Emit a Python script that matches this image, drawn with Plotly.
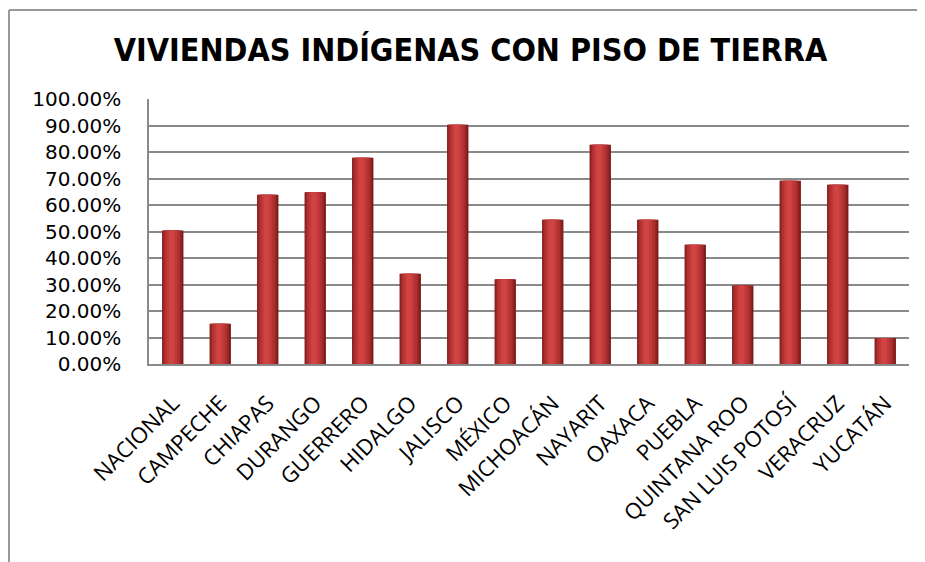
import plotly.graph_objects as go

categories = ["NACIONAL", "CAMPECHE", "CHIAPAS", "DURANGO", "GUERRERO", "HIDALGO",
              "JALISCO", "MÉXICO", "MICHOACÁN", "NAYARIT", "OAXACA", "PUEBLA",
              "QUINTANA ROO", "SAN LUIS POTOSÍ", "VERACRUZ", "YUCATÁN"]
values = [0.504, 0.152, 0.639, 0.648, 0.779, 0.341, 0.903, 0.320, 0.545, 0.828,
          0.545, 0.450, 0.296, 0.692, 0.677, 0.098]
tick_vals = [i / 10 for i in range(11)]
title_text = "VIVIENDAS INDÍGENAS CON PISO DE TIERRA"

fig = go.Figure()

# layered bars to imitate the cylindrical shading
layers = [
    (0.45, 0.0, "#7E1C1C"),
    (0.39, -0.01, "#9A2727"),
    (0.32, -0.015, "#B03131"),
    (0.22, -0.02, "#C33939"),
    (0.12, -0.025, "#D04343"),
]
for w, shift, col in layers:
    fig.add_trace(go.Bar(
        x=categories, y=values, width=w, offset=-w / 2 + shift,
        marker=dict(color=col, line=dict(width=0)),
        hoverinfo="skip" if w != 0.45 else "x+y", showlegend=False,
    ))

PL, PR, PT, PB = 141, 24, 91, 206
PW = 925 - PL - PR
PH = 562 - PT - PB

fig.update_layout(
    width=925, height=562,
    margin=dict(l=PL, r=PR, t=PT, b=PB),
    paper_bgcolor="white", plot_bgcolor="white",
    barmode="overlay",
    title=dict(text="<b>" + title_text + "</b>", x=0.5, xanchor="center",
               y=1 - 42 / 562, yanchor="middle",
               font=dict(family="DejaVu Sans Condensed", size=32, color="black")),
    font=dict(family="DejaVu Sans", color="black"),
    showlegend=False,
)
fig.update_yaxes(
    range=[0, 1.0005], tickvals=tick_vals, tickformat=".2%",
    showgrid=True, gridcolor="#8A8A8A", gridwidth=1.5,
    showline=True, linecolor="#8A8A8A", linewidth=1.5,
    ticks="", tickfont=dict(size=20, family="DejaVu Sans", color="black"),
    ticklabelstandoff=22, zeroline=False,
)
fig.update_xaxes(
    showline=True, linecolor="#8A8A8A", linewidth=1.5,
    ticks="", tickangle=-45, tickfont=dict(size=22, family="Open Sans", color="black"),
    ticklabelstandoff=16,
)

# outer chart border (left and top edges visible)
bx = (1 - PL) / PW
by = (PH + PT - 2) / PH
fig.add_shape(type="line", xref="paper", yref="paper",
              x0=bx, x1=bx, y0=-1.0, y1=by,
              line=dict(color="#999999", width=2))
fig.add_shape(type="line", xref="paper", yref="paper",
              x0=bx, x1=1.05, y0=by, y1=by,
              line=dict(color="#999999", width=2))

fig.write_html("out.html")
